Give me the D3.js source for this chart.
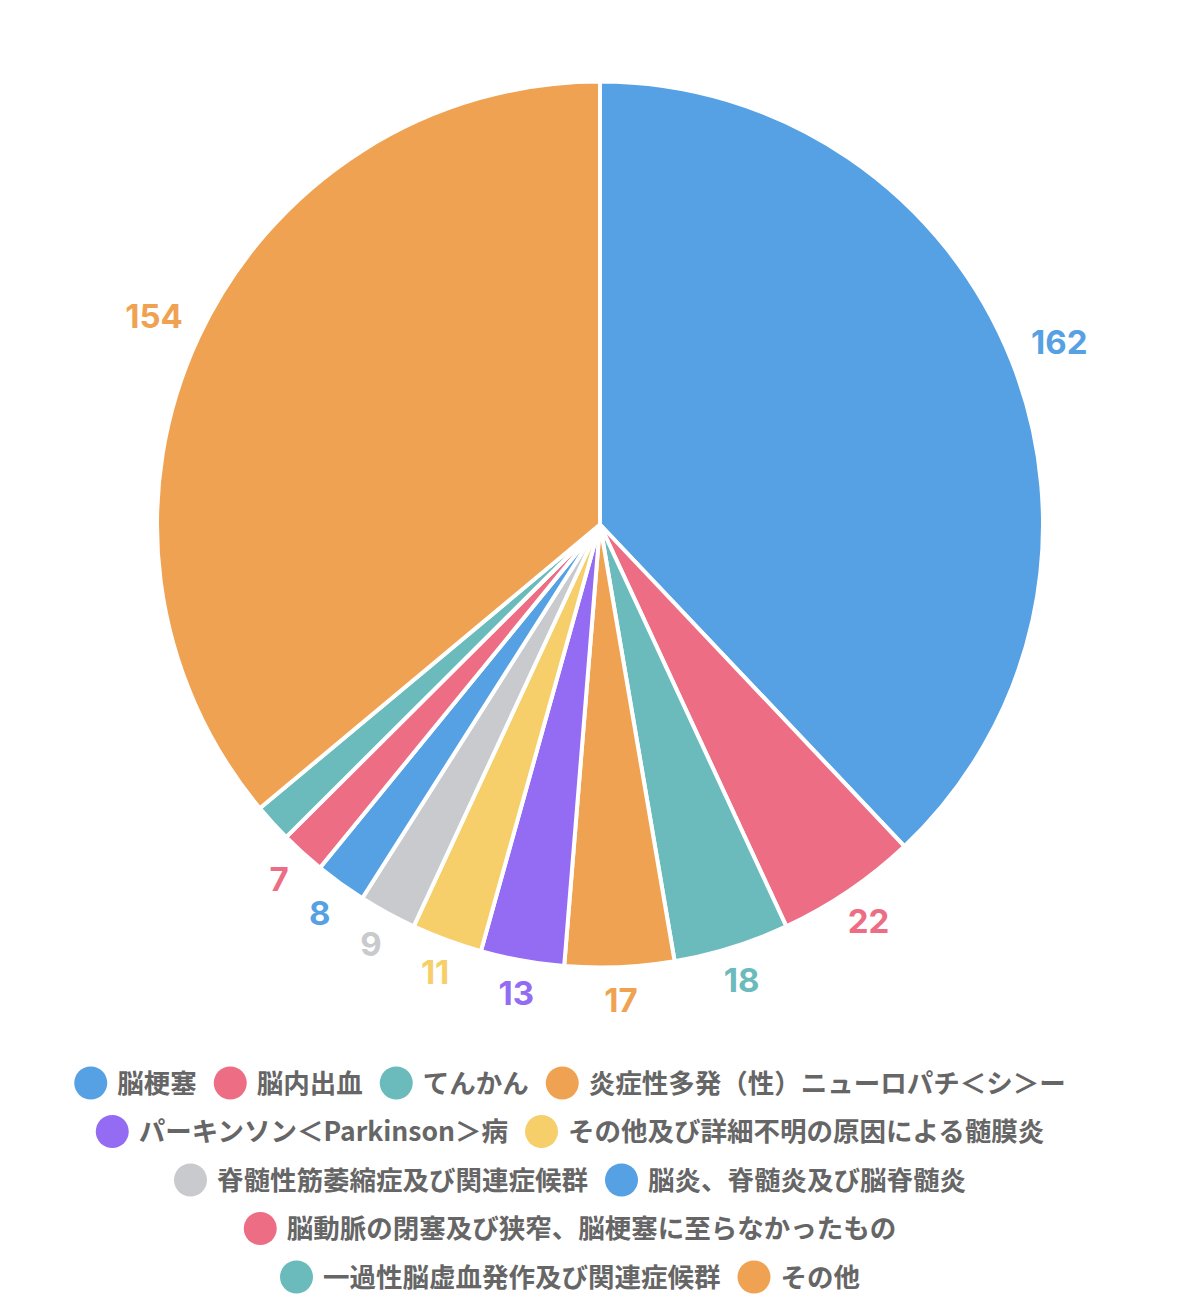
<!DOCTYPE html>
<html><head><meta charset="utf-8">
<script src="https://cdn.jsdelivr.net/npm/d3@7/dist/d3.min.js"></script>
<style>
html,body{margin:0;padding:0;background:#fff;}
svg{display:block;}
</style></head>
<body>
<svg id="chart" width="1200" height="1310"></svg>
<script>
const categories = [
  "脳梗塞",
  "脳内出血",
  "てんかん",
  "炎症性多発（性）ニューロパチ＜シ＞ー",
  "パーキンソン＜Parkinson＞病",
  "その他及び詳細不明の原因による髄膜炎",
  "脊髄性筋萎縮症及び関連症候群",
  "脳炎、脊髄炎及び脳脊髄炎",
  "脳動脈の閉塞及び狭窄、脳梗塞に至らなかったもの",
  "一過性脳虚血発作及び関連症候群",
  "その他"
];
const values = [162, 22, 18, 17, 13, 11, 9, 8, 7, 6, 154];
const colors = ["#56a0e4","#ed6d84","#6bbbbd","#efa352","#946cf4","#f6cf6b","#c9cacd","#56a0e4","#ed6d84","#6bbbbd","#efa352"];
const labelMin = 7; // smallest value whose label is shown

const svg = d3.select("#chart");
const cx = 600, cy = 524.5, R = 443;
const font = "'Noto Sans CJK JP','Noto Sans',sans-serif";
const numFont = "Inter,'Noto Sans CJK JP',sans-serif";

const data = categories.map((c,i)=>({name:c, value:values[i], color:colors[i]}));
const pie = d3.pie().sort(null).value(d=>d.value);
const arcs = pie(data);
const arc = d3.arc().innerRadius(0).outerRadius(R);

const g = svg.append("g").attr("transform",`translate(${cx},${cy})`);
g.selectAll("path.slice").data(arcs).join("path")
  .attr("class","slice")
  .attr("d",arc)
  .attr("fill",d=>d.data.color)
  .attr("stroke","#fff")
  .attr("stroke-width",4)
  .attr("stroke-linejoin","round");

// value labels outside
const fs = 33, capH = 24, offset = 21;
const labels = g.selectAll("text.val").data(arcs.filter(d=>d.data.value>=labelMin)).join("text")
  .attr("class","val")
  .attr("font-family",numFont)
  .attr("font-weight",700)
  .attr("font-size",fs)
  .attr("fill",d=>d.data.color)
  .attr("text-anchor","middle")
  .text(d=>d.data.value);
labels.each(function(d){
  const w = this.getComputedTextLength();
  const a = (d.startAngle+d.endAngle)/2;
  const ux = Math.sin(a), uy = -Math.cos(a);
  const ext = Math.min(Math.abs(ux)>1e-6 ? (w/2)/Math.abs(ux) : 1e9, Math.abs(uy)>1e-6 ? (capH/2)/Math.abs(uy) : 1e9);
  const dist = R + offset + ext;
  d3.select(this).attr("x", ux*dist).attr("y", uy*dist + capH/2);
});

// legend
const lfs = 26.5, boxD = 33, boxGap = 10, itemGap = 17, rowH = 48.5, legendY0 = 1083, legendCx = 570, maxW = 1090;
const leg = svg.append("g");
const tmp = leg.append("text").attr("font-family",font).attr("font-weight",700).attr("font-size",lfs);
const items = data.map(d=>{ tmp.text(d.name); return {...d, tw: tmp.node().getComputedTextLength()}; });
tmp.remove();
const rows = [];
let cur = [], curW = 0;
items.forEach(it=>{
  const iw = boxD + boxGap + it.tw;
  const nw = cur.length ? curW + itemGap + iw : iw;
  if (cur.length && nw > maxW) { rows.push({items:cur, w:curW}); cur=[it]; curW=iw; }
  else { cur.push(it); curW = nw; }
});
if (cur.length) rows.push({items:cur, w:curW});
rows.forEach((row,ri)=>{
  const y = legendY0 + ri*rowH;
  let x = legendCx - row.w/2;
  row.items.forEach(it=>{
    leg.append("circle").attr("cx",x+boxD/2).attr("cy",y).attr("r",boxD/2).attr("fill",it.color);
    leg.append("text").attr("x",x+boxD+boxGap).attr("y",y+lfs*0.36)
      .attr("font-family",font).attr("font-weight",700).attr("font-size",lfs)
      .attr("fill","#666").text(it.name);
    x += boxD + boxGap + it.tw + itemGap;
  });
});
</script>
</body></html>
